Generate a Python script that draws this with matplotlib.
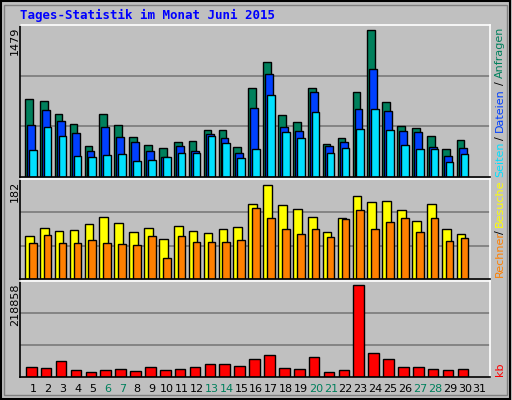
import numpy as np
import matplotlib.pyplot as plt
from matplotlib.patches import Rectangle

# --- data (pixel tops converted to values) ---
days = np.arange(1, 31)
anfragen_px = [295, 301, 340, 370, 436, 340, 373, 409, 433, 442, 424, 421, 388, 388, 439,
               262, 184, 343, 364, 262, 430, 412, 274, 88, 304, 376, 382, 406, 445, 418]
dateien_px = [373, 328, 361, 397, 451, 379, 409, 424, 451, 469, 436, 451, 400, 412, 457,
              322, 220, 379, 391, 274, 436, 424, 325, 205, 331, 391, 394, 439, 466, 442]
seiten_px = [448, 379, 406, 466, 469, 463, 460, 481, 478, 469, 457, 457, 406, 427, 472,
             445, 283, 394, 412, 334, 457, 442, 385, 325, 388, 433, 445, 445, 484, 460]
besuche_px = [178, 154, 163, 160, 142, 121, 139, 166, 154, 187, 148, 163, 169, 157, 151,
              85, 28, 88, 100, 121, 166, 124, 61, 79, 76, 103, 133, 85, 157, 172]
rechner_px = [199, 175, 199, 199, 190, 199, 202, 205, 178, 244, 178, 196, 196, 196, 190,
              97, 124, 157, 172, 157, 181, 127, 103, 157, 136, 124, 166, 124, 193, 184]
kb_px = [571, 574, 553, 580, 586, 580, 577, 583, 571, 580, 577, 571, 562, 562, 568,
         547, 535, 574, 577, 541, 586, 580, 328, 532, 547, 571, 571, 577, 580, 577]

anfragen = (530 - np.array(anfragen_px)) / 442 * 1479
dateien = (530 - np.array(dateien_px)) / 442 * 1479
seiten = (530 - np.array(seiten_px)) / 442 * 1479
besuche = (305 - np.array(besuche_px)) / 277 * 182
rechner = (305 - np.array(rechner_px)) / 277 * 182
kb = (602 - np.array(kb_px)) / 274 * 218858

tick_days = list(range(1, 32))
weekend = {6, 7, 13, 14, 20, 21, 27, 28}

BG = "#C0C0C0"
C_ANF, C_DAT, C_SEI = "#00805C", "#0040FF", "#00E0FF"
C_BES, C_RECH, C_KB = "#FFFF00", "#FF8000", "#FF0000"

fig = plt.figure(figsize=(5.12, 4.0), dpi=100)
fig.patch.set_facecolor(BG)
fig.patches.append(Rectangle((0.002, 0.003), 0.995, 0.994, transform=fig.transFigure,
                             fill=False, edgecolor="black", linewidth=1.5))
fig.patches.append(Rectangle((0.008, 0.012), 0.982, 0.975, transform=fig.transFigure,
                             fill=False, edgecolor="#808080", linewidth=1))

W, H = 512, 400


def make_ax(top, bottom):
    ax = fig.add_axes([20 / W, (H - bottom) / H, 470 / W, (bottom - top) / H])
    ax.set_facecolor(BG)
    ax.set_xlim(0.13, 31.7)
    ax.set_xticks([])
    ax.set_yticks([])
    for s in ax.spines.values():
        s.set_linewidth(1.2)
    ax.spines["left"].set_color("black")
    ax.spines["top"].set_color("white")
    ax.spines["right"].set_color("white")
    return ax


kw = dict(align="edge", edgecolor="black", linewidth=1, zorder=2)


def grid(ax, ymax):
    for f in (1 / 3, 2 / 3):
        ax.axhline(ymax * f, color="#7A7A7A", linewidth=1.2, zorder=1)


ax1 = make_ax(25, 177)
ymax1 = 1479 * 152 / 147
ax1.set_ylim(0, ymax1)
grid(ax1, ymax1)
ax1.bar(days - 0.53, anfragen, width=0.51, color=C_ANF, **kw)
ax1.bar(days - 0.40, dateien, width=0.53, color=C_DAT, **kw)
ax1.bar(days - 0.27, seiten, width=0.51, color=C_SEI, **kw)

ax2 = make_ax(179, 279)
ymax2 = 182 * 100 / 94
ax2.set_ylim(0, ymax2)
grid(ax2, ymax2)
ax2.bar(days - 0.53, besuche, width=0.58, color=C_BES, **kw)
ax2.bar(days - 0.27, rechner, width=0.51, color=C_RECH, **kw)

ax3 = make_ax(281, 377)
ymax3 = 218858 * 96 / 92
ax3.set_ylim(0, ymax3)
grid(ax3, ymax3)
ax3.bar(days - 0.47, kb, width=0.71, color=C_KB, **kw)

# day labels
for d in tick_days:
    x = fig.transFigure.inverted().transform(ax3.transData.transform((d, 0)))[0]
    fig.text(x, (H - 389) / H, str(d), ha="center", va="center", fontsize=8,
             color=C_ANF if d in weekend else "black")

fig.text(20 / W, (H - 15) / H, "Tages-Statistik im Monat Juni 2015", color="#0000FF",
         fontsize=9, fontweight="bold", family="DejaVu Sans Mono", va="center")

# max labels on the left
for y, lab in ((27, "1479"), (181, "182"), (283, "218858")):
    fig.text(15 / W, (H - y) / H, lab, rotation=90, ha="center", va="top", fontsize=8)


# right side legends
def side(y, s, c):
    fig.text(500 / W, (H - y) / H, s, rotation=90, ha="center", va="bottom",
             fontsize=8, color=c)


side(177, "Seiten", C_SEI)
side(140, "/", "black")
side(132, "Dateien", C_DAT)
side(85, "/", "black")
side(78, "Anfragen", C_ANF)
side(277, "Rechner", C_RECH)
side(234, "/", "black")
side(227, "Besuche", C_BES)
side(376, "kb", C_KB)

fig.savefig("out.png", dpi=100, facecolor=BG)
